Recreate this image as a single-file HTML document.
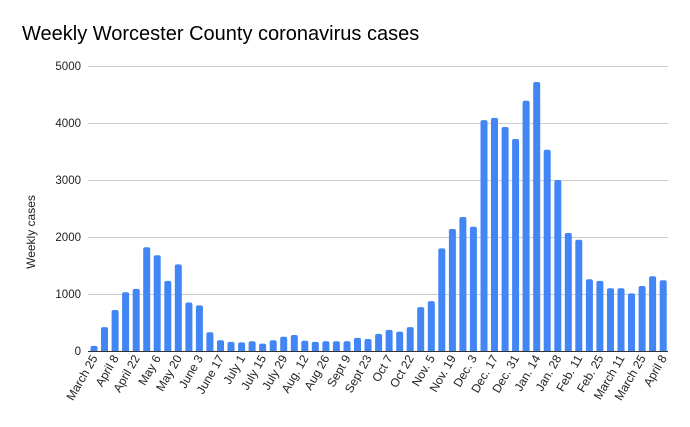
<!DOCTYPE html>
<html><head><meta charset="utf-8"><style>
html,body{margin:0;padding:0;background:#fff;}
svg{display:block;font-family:"Liberation Sans",Arial,sans-serif;}
</style></head><body>
<svg width="690" height="427" viewBox="0 0 690 427">
<rect width="690" height="427" fill="#fff"/>
<text x="22" y="40" font-size="20" fill="#000">Weekly Worcester County coronavirus cases</text>
<g stroke="#cccccc" stroke-width="1">
<line x1="88" x2="668" y1="66.5" y2="66.5"/>
<line x1="88" x2="668" y1="123.5" y2="123.5"/>
<line x1="88" x2="668" y1="180.5" y2="180.5"/>
<line x1="88" x2="668" y1="237.5" y2="237.5"/>
<line x1="88" x2="668" y1="294.5" y2="294.5"/>
</g>
<g font-size="11.5" fill="#222" text-anchor="end">
<text x="81" y="70">5000</text>
<text x="81" y="127">4000</text>
<text x="81" y="184">3000</text>
<text x="81" y="241">2000</text>
<text x="81" y="298">1000</text>
<text x="81" y="355">0</text>
</g>
<text transform="translate(35,232) rotate(-90)" font-size="12" text-anchor="middle" fill="#222">Weekly cases</text>
<defs><clipPath id="c"><rect x="0" y="0" width="690" height="351"/></clipPath></defs>
<g fill="#4285f4" clip-path="url(#c)">
<rect x="90.5" y="345.9" width="7" height="10" rx="2"/>
<rect x="101" y="327.1" width="7" height="30" rx="2"/>
<rect x="111.6" y="310" width="7" height="45" rx="2"/>
<rect x="122.1" y="292.3" width="7" height="65" rx="2"/>
<rect x="132.7" y="288.9" width="7" height="65" rx="2"/>
<rect x="143.2" y="247.3" width="7" height="110" rx="2"/>
<rect x="153.7" y="255.2" width="7" height="100" rx="2"/>
<rect x="164.3" y="280.9" width="7" height="75" rx="2"/>
<rect x="174.8" y="264.4" width="7" height="90" rx="2"/>
<rect x="185.4" y="302.5" width="7" height="55" rx="2"/>
<rect x="195.9" y="305.4" width="7" height="50" rx="2"/>
<rect x="206.4" y="332.2" width="7" height="25" rx="2"/>
<rect x="217" y="340.2" width="7" height="15" rx="2"/>
<rect x="227.5" y="341.9" width="7" height="15" rx="2"/>
<rect x="238.1" y="342.4" width="7" height="15" rx="2"/>
<rect x="248.6" y="341.3" width="7" height="15" rx="2"/>
<rect x="259.1" y="343.6" width="7" height="15" rx="2"/>
<rect x="269.7" y="340.2" width="7" height="15" rx="2"/>
<rect x="280.2" y="336.7" width="7" height="20" rx="2"/>
<rect x="290.8" y="335" width="7" height="20" rx="2"/>
<rect x="301.3" y="340.7" width="7" height="15" rx="2"/>
<rect x="311.8" y="341.9" width="7" height="15" rx="2"/>
<rect x="322.4" y="341.3" width="7" height="15" rx="2"/>
<rect x="332.9" y="341.3" width="7" height="15" rx="2"/>
<rect x="343.5" y="341.3" width="7" height="15" rx="2"/>
<rect x="354" y="337.9" width="7" height="20" rx="2"/>
<rect x="364.5" y="339" width="7" height="20" rx="2"/>
<rect x="375.1" y="333.9" width="7" height="20" rx="2"/>
<rect x="385.6" y="329.9" width="7" height="25" rx="2"/>
<rect x="396.2" y="331.6" width="7" height="25" rx="2"/>
<rect x="406.7" y="327.1" width="7" height="30" rx="2"/>
<rect x="417.2" y="307.1" width="7" height="50" rx="2"/>
<rect x="427.8" y="301.1" width="7" height="55" rx="2"/>
<rect x="438.3" y="248.4" width="7" height="110" rx="2"/>
<rect x="448.9" y="229" width="7" height="125" rx="2"/>
<rect x="459.4" y="217" width="7" height="140" rx="2"/>
<rect x="469.9" y="226.7" width="7" height="130" rx="2"/>
<rect x="480.5" y="120.1" width="7" height="235" rx="2"/>
<rect x="491" y="117.9" width="7" height="240" rx="2"/>
<rect x="501.6" y="127" width="7" height="230" rx="2"/>
<rect x="512.1" y="139" width="7" height="215" rx="2"/>
<rect x="522.6" y="100.8" width="7" height="255" rx="2"/>
<rect x="533.2" y="82" width="7" height="275" rx="2"/>
<rect x="543.7" y="149.8" width="7" height="205" rx="2"/>
<rect x="554.3" y="180" width="7" height="175" rx="2"/>
<rect x="564.8" y="233" width="7" height="125" rx="2"/>
<rect x="575.3" y="239.8" width="7" height="115" rx="2"/>
<rect x="585.9" y="279.2" width="7" height="75" rx="2"/>
<rect x="596.4" y="280.9" width="7" height="75" rx="2"/>
<rect x="607" y="288.3" width="7" height="65" rx="2"/>
<rect x="617.5" y="288.3" width="7" height="65" rx="2"/>
<rect x="628" y="293.4" width="7" height="60" rx="2"/>
<rect x="638.6" y="286" width="7" height="70" rx="2"/>
<rect x="649.1" y="276.3" width="7" height="80" rx="2"/>
<rect x="659.7" y="280.3" width="7" height="75" rx="2"/>
</g>
<line x1="88" x2="668" y1="351.5" y2="351.5" stroke="#333" stroke-width="1"/>
<g font-size="12" fill="#222" text-anchor="end">
<text transform="translate(98,358) rotate(-60)">March 25</text>
<text transform="translate(119.1,358) rotate(-60)">April 8</text>
<text transform="translate(140.2,358) rotate(-60)">April 22</text>
<text transform="translate(161.2,358) rotate(-60)">May 6</text>
<text transform="translate(182.3,358) rotate(-60)">May 20</text>
<text transform="translate(203.4,358) rotate(-60)">June 3</text>
<text transform="translate(224.5,358) rotate(-60)">June 17</text>
<text transform="translate(245.6,358) rotate(-60)">July 1</text>
<text transform="translate(266.6,358) rotate(-60)">July 15</text>
<text transform="translate(287.7,358) rotate(-60)">July 29</text>
<text transform="translate(308.8,358) rotate(-60)">Aug. 12</text>
<text transform="translate(329.9,358) rotate(-60)">Aug 26</text>
<text transform="translate(351,358) rotate(-60)">Sept 9</text>
<text transform="translate(372,358) rotate(-60)">Sept 23</text>
<text transform="translate(393.1,358) rotate(-60)">Oct 7</text>
<text transform="translate(414.2,358) rotate(-60)">Oct 22</text>
<text transform="translate(435.3,358) rotate(-60)">Nov. 5</text>
<text transform="translate(456.4,358) rotate(-60)">Nov. 19</text>
<text transform="translate(477.4,358) rotate(-60)">Dec. 3</text>
<text transform="translate(498.5,358) rotate(-60)">Dec. 17</text>
<text transform="translate(519.6,358) rotate(-60)">Dec. 31</text>
<text transform="translate(540.7,358) rotate(-60)">Jan. 14</text>
<text transform="translate(561.8,358) rotate(-60)">Jan. 28</text>
<text transform="translate(582.8,358) rotate(-60)">Feb. 11</text>
<text transform="translate(603.9,358) rotate(-60)">Feb. 25</text>
<text transform="translate(625,358) rotate(-60)">March 11</text>
<text transform="translate(646.1,358) rotate(-60)">March 25</text>
<text transform="translate(667.2,358) rotate(-60)">April 8</text>
</g>
</svg>
</body></html>
